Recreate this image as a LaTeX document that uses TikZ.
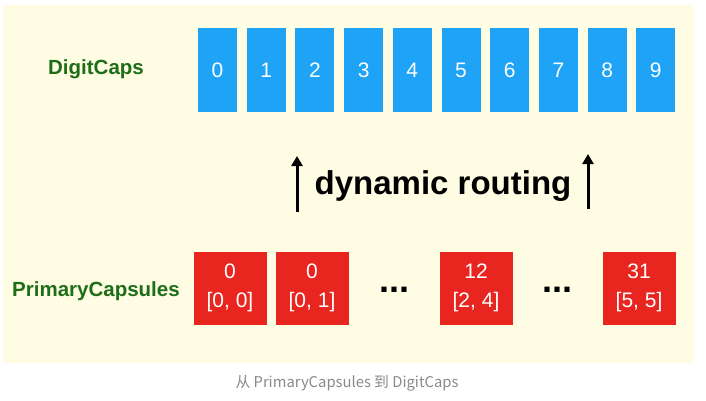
\documentclass[tikz,border=0pt]{standalone}
\usepackage{fontspec}
\setmainfont{Liberation Sans}
\newfontfamily\cjk{Noto Sans CJK SC}
\usetikzlibrary{arrows.meta}
\definecolor{bgcream}{HTML}{FEFCE3}
\definecolor{capblue}{HTML}{1FA3F7}
\definecolor{capred}{HTML}{E8261F}
\definecolor{lblgreen}{HTML}{1E6E17}
\definecolor{capgray}{HTML}{8A8A8A}
\tikzset{
  bluebox/.style={fill=capblue, draw=none, minimum width=39pt, minimum height=84pt, inner sep=0pt, text=white, font=\fontsize{21}{21}\selectfont},
  redbox/.style={fill=capred, draw=none, minimum width=73pt, minimum height=73pt, inner sep=0pt, text=white, align=center, font=\fontsize{21}{29.5}\selectfont},
  rowlabel/.style={text=lblgreen, font=\bfseries\fontsize{20.5}{21}\selectfont},
  dotsstyle/.style={font=\bfseries\fontsize{36}{36}\selectfont},
  routearrow/.style={line width=3pt, -{Triangle[length=10pt,width=11pt]}},
}
\begin{document}
\begin{tikzpicture}[x=1pt,y=-1pt]
\useasboundingbox (0,0) rectangle (706,400);
\fill[white] (0,0) rectangle (706,400);
\fill[bgcream] (3,5) rectangle (694,363);
\node[rowlabel] (dlabel) at (96,69) {DigitCaps};
\foreach \i in {0,...,9} {
  \node[bluebox] (d\i) at ({217.5+48.7*\i},70) {\i};
}
\node[rowlabel] (plabel) at (96,291) {PrimaryCapsules};
\node[redbox] (p0) at (230,288) {0\\{[0, 0]}};
\node[redbox] (p1) at (312,288) {0\\{[0, 1]}};
\node[dotsstyle] (dots1) at (394,290) {...};
\node[redbox] (p12) at (476,288) {12\\{[2, 4]}};
\node[dotsstyle] (dots2) at (557,290) {...};
\node[redbox] (p31) at (639,288) {31\\{[5, 5]}};
\node[font=\bfseries\fontsize{33}{33}\selectfont] (route) at (443,186) {dynamic routing};
\coordinate (a1s) at (297,212);
\coordinate (a1e) at (297,156);
\coordinate (a2s) at (588,209);
\coordinate (a2e) at (588,154);
\draw[routearrow] (a1s) -- (a1e);
\draw[routearrow] (a2s) -- (a2e);
\node[text=capgray, font=\cjk\fontsize{14.8}{15}\selectfont] (caption) at (347,383) {从 PrimaryCapsules 到 DigitCaps};
\end{tikzpicture}
\end{document}
